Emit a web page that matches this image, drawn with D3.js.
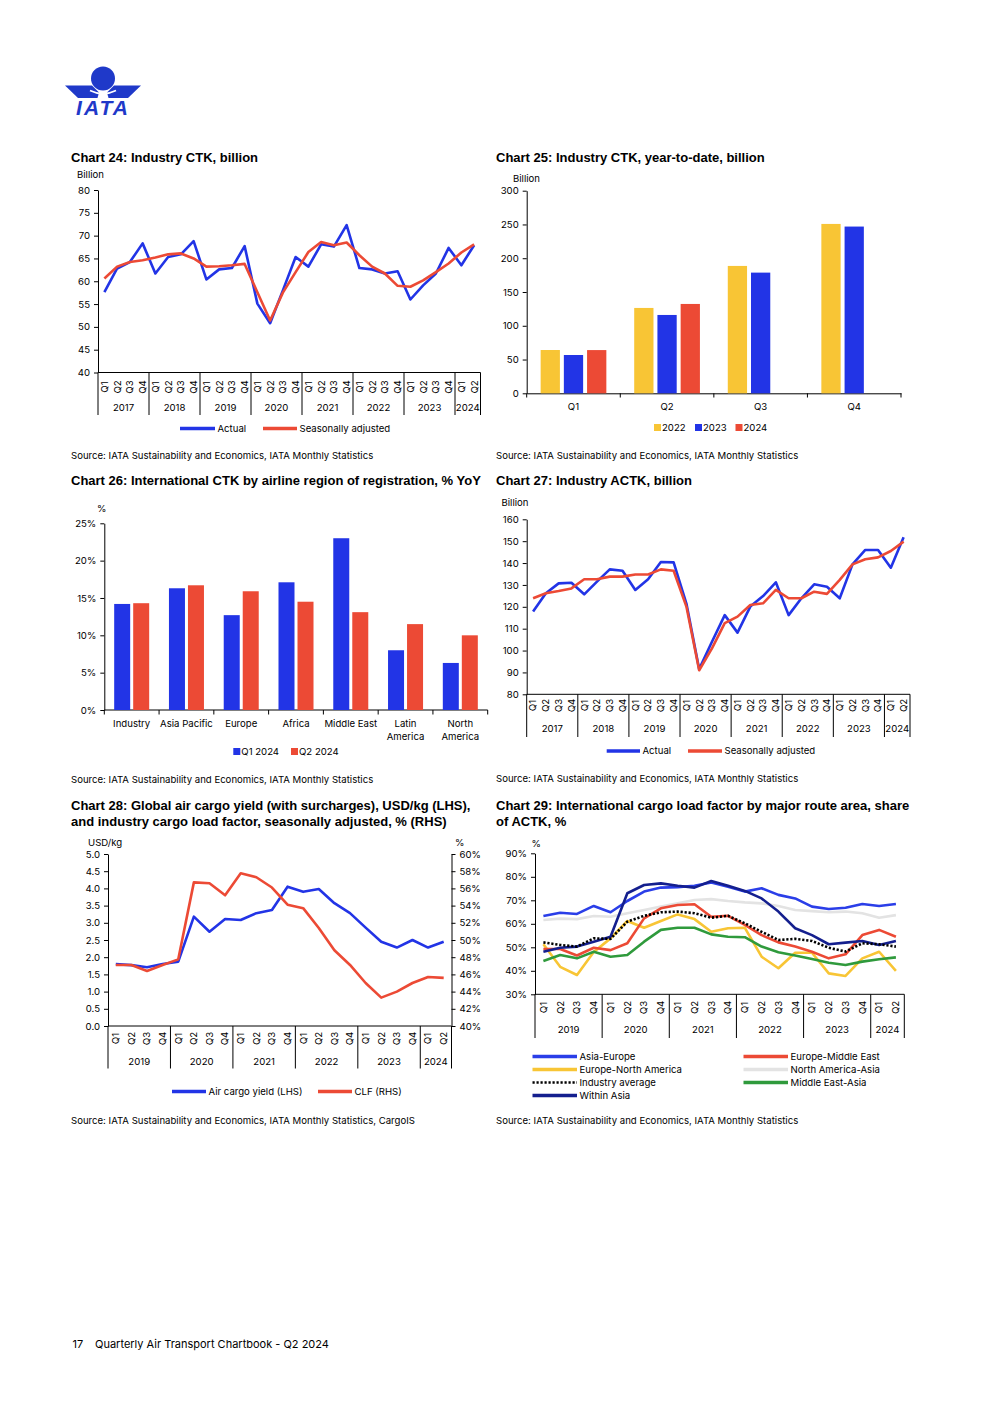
<!DOCTYPE html>
<html>
<head>
<meta charset="utf-8">
<script src="https://cdn.jsdelivr.net/npm/d3@7.9.0/dist/d3.min.js"></script>
<style>
  body { margin: 0; background: #fff; }
  svg text { font-family: Inter, "Liberation Sans", Arial, sans-serif; fill: #000; }
  svg text.title { font-family: "Liberation Sans", Arial, sans-serif; }
</style>
</head>
<body>
<svg id="page" width="992" height="1403"></svg>
<script>
const BLUE = '#2234e6';
const RED = '#ec4a35';
const YELLOW = '#f8c535';

// Chart 24: industry CTK, billion
const ctkYears = ['2017', '2018', '2019', '2020', '2021', '2022', '2023', '2024'];
const ctkQuarterCounts = [4, 4, 4, 4, 4, 4, 4, 2];
const ctkActual = [57.6, 62.8, 64.2, 68.3, 61.7, 65.3, 65.9, 68.8, 60.4, 62.6, 62.9, 67.7,
  55.1, 50.8, 58.0, 65.3, 63.2, 68.1, 67.6, 72.3, 62.9, 62.6, 61.7, 62.2,
  56.0, 59.1, 61.7, 67.3, 63.5, 67.9];
const ctkSA = [60.6, 63.2, 64.2, 64.6, 65.2, 65.9, 66.1, 65.0, 63.2, 63.3, 63.5, 63.8,
  57.6, 51.4, 57.5, 62.0, 66.4, 68.6, 67.9, 68.5, 65.7, 63.2, 61.7, 59.0,
  58.8, 60.2, 62.0, 63.9, 66.3, 68.1];

// Chart 25: industry CTK year-to-date, billion
const ytdQuarters = ['Q1', 'Q2', 'Q3', 'Q4'];
const ytdYears = ['2022', '2023', '2024'];
const ytd2022 = [64.1, 126.4, 188.6, 250.8];
const ytd2023 = [56.7, 116.0, 178.7, 246.9];
const ytd2024 = [64.0, 132.3, null, null];

// Chart 26: international CTK by region, % YoY
const regions = ['Industry', 'Asia Pacific', 'Europe', 'Africa', 'Middle East', 'Latin America', 'North America'];
const regionLabels = [['Industry'], ['Asia Pacific'], ['Europe'], ['Africa'], ['Middle East'], ['Latin', 'America'], ['North', 'America']];
const regionQ1 = [14.2, 16.3, 12.7, 17.1, 23.0, 8.0, 6.3];
const regionQ2 = [14.3, 16.7, 15.9, 14.5, 13.1, 11.5, 10.0];

// Chart 27: industry ACTK, billion
const actkActual = [117.8, 126.2, 130.7, 131.0, 125.7, 131.5, 137.1, 136.5, 127.7, 132.6, 140.5, 140.3,
  121.5, 91.5, 104.0, 116.2, 108.2, 120.1, 124.9, 131.2, 116.2, 123.9, 130.3, 129.2,
  123.9, 139.4, 146.0, 146.0, 137.9, 151.8];
const actkSA = [123.9, 126.2, 127.2, 128.4, 132.6, 132.6, 133.8, 133.8, 134.8, 134.8, 137.1, 136.5,
  120.1, 91.0, 101.0, 112.5, 115.5, 120.8, 121.6, 127.7, 123.9, 123.9, 126.9, 125.9,
  132.3, 139.4, 141.7, 142.6, 145.5, 149.8];

// Chart 28: yield (LHS) and CLF (RHS)
const yieldYears = ['2019', '2020', '2021', '2022', '2023', '2024'];
const yieldQuarterCounts = [4, 4, 4, 4, 4, 2];
const airCargoYield = [1.80, 1.77, 1.71, 1.80, 1.87, 3.18, 2.74, 3.11, 3.08, 3.28, 3.37, 4.05,
  3.90, 3.98, 3.57, 3.28, 2.86, 2.45, 2.28, 2.50, 2.28, 2.45];
const cargoLoadFactor = [47.1, 47.1, 46.4, 47.1, 47.75, 56.7, 56.6, 55.2, 57.75, 57.3, 56.1, 54.1,
  53.7, 51.4, 48.8, 47.1, 45.0, 43.3, 44.0, 45.0, 45.7, 45.6];

// Chart 29: international CLF by route area, %
const routeYears = ['2019', '2020', '2021', '2022', '2023', '2024'];
const routeQuarterCounts = [4, 4, 4, 4, 4, 2];
const asiaEurope = [63.3, 64.7, 64.2, 67.6, 64.9, 69.7, 73.7, 75.4, 75.6, 76.2, 77.6, 75.8,
  73.7, 75.1, 72.3, 70.8, 67.3, 66.3, 66.8, 68.4, 67.6, 68.4];
const europeMiddleEast = [49.3, 49.3, 46.5, 49.8, 48.8, 51.7, 62.3, 66.6, 68.0, 68.3, 63.0, 63.4,
  59.5, 55.2, 52.1, 50.3, 48.1, 45.3, 47.0, 55.2, 57.4, 54.5];
const europeNorthAmerica = [51.3, 41.7, 38.2, 48.0, 53.8, 61.2, 58.3, 61.2, 64.0, 62.0, 56.6, 58.1,
  58.3, 46.0, 41.1, 47.7, 47.7, 38.9, 37.8, 45.3, 48.1, 40.0];
const northAmericaAsia = [61.6, 62.2, 62.0, 63.3, 63.0, 64.5, 65.9, 67.3, 68.7, 70.1, 70.5, 69.7,
  69.1, 68.7, 67.6, 65.9, 65.4, 64.9, 65.2, 64.5, 62.6, 63.7];
const industryAverage = [52.1, 51.0, 50.3, 53.8, 53.6, 60.9, 63.4, 64.9, 65.2, 64.5, 62.6, 63.4,
  60.2, 56.6, 53.1, 53.6, 52.7, 49.8, 48.2, 51.7, 51.3, 50.3];
const middleEastAsia = [44.2, 46.7, 45.3, 48.1, 46.0, 46.7, 52.4, 57.4, 58.3, 58.3, 55.5, 54.5,
  54.3, 50.3, 47.9, 46.5, 45.0, 43.4, 42.5, 43.9, 44.9, 45.7];
const withinAsia = [48.1, 49.8, 50.3, 52.4, 54.5, 73.0, 76.5, 77.2, 76.2, 75.4, 78.2, 76.2,
  74.0, 70.8, 65.2, 58.1, 55.2, 51.3, 52.0, 52.7, 51.0, 52.7];

const svg = d3.select('#page');
const SMALL = 9.6;

function addText(x, y, txt, size, opts = {}) {
  return svg.append('text')
    .attr('x', x).attr('y', y)
    .attr('font-size', size)
    .attr('font-weight', opts.bold ? 'bold' : null)
    .attr('text-anchor', opts.anchor || 'start')
    .text(txt);
}

function chartTitle(lines, x, y) {
  lines.forEach((t, i) => addText(x, y + i * 16.5, t, 13, { bold: true }).attr('class', 'title'));
}

function styleAxis(g) {
  g.attr('font-family', null).attr('font-size', null);
  g.selectAll('text').attr('font-size', SMALL).attr('fill', '#000');
  g.selectAll('line').attr('stroke', '#000');
  g.select('.domain').attr('stroke', '#000');
}

function yAxis(y, xPos, ticks, fmt, right) {
  const axis = (right ? d3.axisRight(y) : d3.axisLeft(y))
    .tickValues(ticks).tickFormat(fmt).tickSize(4).tickSizeOuter(0).tickPadding(4);
  svg.append('g').attr('transform', `translate(${xPos},0)`).call(axis).call(styleAxis);
}

// multi-level quarter/year category axis
function quarterAxis(x, axisY, years, counts, qCenter, yearY, sepBottom) {
  const [x0, x1] = x.range();
  svg.append('line').attr('x1', x0).attr('x2', x1).attr('y1', axisY).attr('y2', axisY).attr('stroke', '#000');
  let idx = 0;
  const bounds = [x0];
  years.forEach((yr, k) => {
    const start = idx;
    for (let q = 0; q < counts[k]; q++) {
      const cx = x(idx) + x.bandwidth() / 2;
      svg.append('text')
        .attr('transform', `translate(${cx},${qCenter}) rotate(-90)`)
        .attr('text-anchor', 'middle').attr('dy', '0.35em')
        .attr('font-size', SMALL)
        .text('Q' + (q + 1));
      idx++;
    }
    const end = x(idx - 1) + x.bandwidth();
    bounds.push(end);
    addText((x(start) + end) / 2, yearY, yr, SMALL, { anchor: 'middle' });
  });
  bounds.forEach(b => {
    svg.append('line').attr('x1', b).attr('x2', b).attr('y1', axisY).attr('y2', sepBottom).attr('stroke', '#000');
  });
}

function drawLine(x, y, values, color, dash) {
  const line = d3.line()
    .defined(d => d != null)
    .x((d, i) => x(i) + x.bandwidth() / 2)
    .y(d => y(d));
  svg.append('path')
    .datum(values)
    .attr('d', line)
    .attr('fill', 'none')
    .attr('stroke', color)
    .attr('stroke-width', 2.6)
    .attr('stroke-linejoin', 'round')
    .attr('stroke-dasharray', dash || null);
}

function legendLine(x1, x2, y, color, label, dash) {
  svg.append('line').attr('x1', x1).attr('x2', x2).attr('y1', y - 3).attr('y2', y - 3)
    .attr('stroke', color).attr('stroke-width', dash ? 2.4 : 3.4)
    .attr('stroke-dasharray', dash || null);
  addText(x2 + 2.5, y, label, SMALL);
}

function legendSwatch(x, y, color, label) {
  svg.append('rect').attr('x', x).attr('y', y - 7).attr('width', 7).attr('height', 7).attr('fill', color);
  addText(x + 8, y, label, SMALL);
}

// ---- IATA logo ----
const LOGO = '#1f39c9';
svg.append('circle').attr('cx', 103).attr('cy', 78.5).attr('r', 12).attr('fill', LOGO);
svg.append('path').attr('d', 'M65,85.5 L92,85.5 L99,92.5 L97.5,98 L78,98 Z').attr('fill', LOGO);
svg.append('path').attr('d', 'M141,85.5 L114,85.5 L107,92.5 L108.5,98 L128,98 Z').attr('fill', LOGO);
svg.append('path').attr('d', 'M90,90.5 Q103,97 116,90.5').attr('stroke', '#fff').attr('stroke-width', 1.6).attr('fill', 'none');
svg.append('text').attr('x', 103).attr('y', 114.5).attr('text-anchor', 'middle')
  .attr('class', 'title')
  .attr('font-size', 21).attr('font-weight', 'bold').attr('font-style', 'italic')
  .attr('letter-spacing', 2).style('fill', LOGO).text('IATA');

// ---- Chart 24 ----
{
  chartTitle(['Chart 24: Industry CTK, billion'], 71, 161.5);
  addText(77, 178, 'Billion', SMALL);
  const x = d3.scaleBand().domain(d3.range(ctkActual.length)).range([98, 480.5]);
  const y = d3.scaleLinear().domain([40, 80]).range([372.5, 190]);
  yAxis(y, 98, d3.range(40, 81, 5), d3.format('d'));
  quarterAxis(x, 372.5, ctkYears, ctkQuarterCounts, 387, 411, 415);
  drawLine(x, y, ctkActual, BLUE);
  drawLine(x, y, ctkSA, RED);
  legendLine(180, 215, 431.5, BLUE, 'Actual');
  legendLine(263, 297, 431.5, RED, 'Seasonally adjusted');
  addText(71, 459, 'Source: IATA Sustainability and Economics, IATA Monthly Statistics', SMALL);
}

// ---- Chart 25 ----
{
  chartTitle(['Chart 25: Industry CTK, year-to-date, billion'], 496, 161.5);
  addText(513, 181.5, 'Billion', SMALL);
  const x0 = d3.scaleBand().domain(ytdQuarters).range([526.7, 901]);
  const x1 = d3.scaleBand().domain(ytdYears).range([0, x0.bandwidth()]).paddingInner(0.17).paddingOuter(0.6);
  const y = d3.scaleLinear().domain([0, 300]).range([393.3, 190.7]);
  yAxis(y, 526.7, d3.range(0, 301, 50), d3.format('d'));
  const xAxis = d3.axisBottom(x0).tickSize(0).tickPadding(10);
  svg.append('g').attr('transform', 'translate(0,393.3)').call(xAxis).call(styleAxis);
  ytdQuarters.forEach(q => {
    svg.append('line').attr('x1', x0(q)).attr('x2', x0(q)).attr('y1', 393.3).attr('y2', 397.5).attr('stroke', '#000');
  });
  svg.append('line').attr('x1', 901).attr('x2', 901).attr('y1', 393.3).attr('y2', 397.5).attr('stroke', '#000');
  const series = [ytd2022, ytd2023, ytd2024];
  const colors = [YELLOW, BLUE, RED];
  ytdYears.forEach((yr, s) => {
    ytdQuarters.forEach((q, i) => {
      const v = series[s][i];
      if (v == null) return;
      svg.append('rect')
        .attr('x', x0(q) + x1(yr)).attr('width', x1.bandwidth())
        .attr('y', y(v)).attr('height', y(0) - y(v))
        .attr('fill', colors[s]);
    });
  });
  legendSwatch(654, 431, YELLOW, '2022');
  legendSwatch(695, 431, BLUE, '2023');
  legendSwatch(735.5, 431, RED, '2024');
  addText(496, 459, 'Source: IATA Sustainability and Economics, IATA Monthly Statistics', SMALL);
}

// ---- Chart 26 ----
{
  chartTitle(['Chart 26: International CTK by airline region of registration, % YoY'], 71, 484.5);
  addText(97, 512, '%', SMALL);
  const x0 = d3.scaleBand().domain(regions).range([104.3, 487.7]);
  const x1 = d3.scaleBand().domain(['Q1 2024', 'Q2 2024']).range([0, x0.bandwidth()]).paddingInner(0.158).paddingOuter(0.52);
  const y = d3.scaleLinear().domain([0, 25]).range([710, 523.3]);
  yAxis(y, 104.3, d3.range(0, 26, 5), d => d + '%');
  svg.append('line').attr('x1', 104.3).attr('x2', 487.7).attr('y1', 710).attr('y2', 710).attr('stroke', '#000');
  regions.forEach((r, i) => {
    svg.append('line').attr('x1', x0(r)).attr('x2', x0(r)).attr('y1', 710).attr('y2', 714.5).attr('stroke', '#000');
    [regionQ1, regionQ2].forEach((arr, s) => {
      const key = s === 0 ? 'Q1 2024' : 'Q2 2024';
      svg.append('rect')
        .attr('x', x0(r) + x1(key)).attr('width', x1.bandwidth())
        .attr('y', y(arr[i])).attr('height', y(0) - y(arr[i]))
        .attr('fill', s === 0 ? BLUE : RED);
    });
    regionLabels[i].forEach((ln, j) => {
      addText(x0(r) + x0.bandwidth() / 2, 727 + j * 13, ln, SMALL, { anchor: 'middle' });
    });
  });
  svg.append('line').attr('x1', 487.7).attr('x2', 487.7).attr('y1', 710).attr('y2', 714.5).attr('stroke', '#000');
  legendSwatch(233.3, 755, BLUE, 'Q1 2024');
  legendSwatch(291, 755, RED, 'Q2 2024');
  addText(71, 782.5, 'Source: IATA Sustainability and Economics, IATA Monthly Statistics', SMALL);
}

// ---- Chart 27 ----
{
  chartTitle(['Chart 27: Industry ACTK, billion'], 496, 484.5);
  addText(501.5, 506, 'Billion', SMALL);
  const x = d3.scaleBand().domain(d3.range(actkActual.length)).range([526.7, 910]);
  const y = d3.scaleLinear().domain([80, 160]).range([694.3, 519.3]);
  yAxis(y, 526.7, d3.range(80, 161, 10), d3.format('d'));
  quarterAxis(x, 694.3, ctkYears, ctkQuarterCounts, 705.5, 732, 737);
  drawLine(x, y, actkActual, BLUE);
  drawLine(x, y, actkSA, RED);
  legendLine(606.7, 640, 754, BLUE, 'Actual');
  legendLine(688, 722, 754, RED, 'Seasonally adjusted');
  addText(496, 781.5, 'Source: IATA Sustainability and Economics, IATA Monthly Statistics', SMALL);
}

// ---- Chart 28 ----
{
  chartTitle(['Chart 28: Global air cargo yield (with surcharges), USD/kg (LHS),',
    'and industry cargo load factor, seasonally adjusted, % (RHS)'], 71, 809.5);
  addText(88, 845.5, 'USD/kg', SMALL);
  addText(455, 845.5, '%', SMALL);
  const x = d3.scaleBand().domain(d3.range(airCargoYield.length)).range([108, 451.5]);
  const yL = d3.scaleLinear().domain([0, 5]).range([1026, 854]);
  const yR = d3.scaleLinear().domain([40, 60]).range([1026, 854]);
  yAxis(yL, 108, d3.range(0, 5.01, 0.5), d3.format('.1f'));
  yAxis(yR, 451.5, d3.range(40, 61, 2), d => d + '%', true);
  quarterAxis(x, 1026, yieldYears, yieldQuarterCounts, 1038.5, 1064.5, 1068.5);
  drawLine(x, yL, airCargoYield, BLUE);
  drawLine(x, yR, cargoLoadFactor, RED);
  legendLine(172, 206, 1094.5, BLUE, 'Air cargo yield (LHS)');
  legendLine(318, 352, 1094.5, RED, 'CLF (RHS)');
  addText(71, 1123.5, 'Source: IATA Sustainability and Economics, IATA Monthly Statistics, CargoIS', SMALL);
}

// ---- Chart 29 ----
{
  chartTitle(['Chart 29: International cargo load factor by major route area, share',
    'of ACTK, %'], 496, 809.5);
  addText(531.5, 847, '%', SMALL);
  const x = d3.scaleBand().domain(d3.range(asiaEurope.length)).range([535, 904.3]);
  const y = d3.scaleLinear().domain([30, 90]).range([994.3, 853.3]);
  yAxis(y, 535, d3.range(30, 91, 10), d => d + '%');
  quarterAxis(x, 994.3, routeYears, routeQuarterCounts, 1007.5, 1033, 1038);
  const routes = [
    { name: 'North America-Asia', values: northAmericaAsia, color: '#e3e3e3' },
    { name: 'Europe-North America', values: europeNorthAmerica, color: YELLOW },
    { name: 'Middle East-Asia', values: middleEastAsia, color: '#2f9a3c' },
    { name: 'Europe-Middle East', values: europeMiddleEast, color: RED },
    { name: 'Asia-Europe', values: asiaEurope, color: '#2a3ee8' },
    { name: 'Within Asia', values: withinAsia, color: '#141f8e' },
    { name: 'Industry average', values: industryAverage, color: '#000', dash: '2.2,1.8' }
  ];
  routes.forEach(r => drawLine(x, y, r.values, r.color, r.dash));
  const byName = Object.fromEntries(routes.map(r => [r.name, r]));
  const legendOrder = [
    ['Asia-Europe', 532.5, 1059.5], ['Europe-Middle East', 743.5, 1059.5],
    ['Europe-North America', 532.5, 1072.5], ['North America-Asia', 743.5, 1072.5],
    ['Industry average', 532.5, 1085.5], ['Middle East-Asia', 743.5, 1085.5],
    ['Within Asia', 532.5, 1098.5]
  ];
  legendOrder.forEach(([name, lx, ly]) => {
    const r = byName[name];
    legendLine(lx, lx + 44.5, ly, r.color, name, r.dash);
  });
  addText(496, 1123.5, 'Source: IATA Sustainability and Economics, IATA Monthly Statistics', SMALL);
}

// footer
addText(72.5, 1347.5, '17', 11);
addText(95, 1347.5, 'Quarterly Air Transport Chartbook - Q2 2024', 11);
</script>
</body>
</html>
